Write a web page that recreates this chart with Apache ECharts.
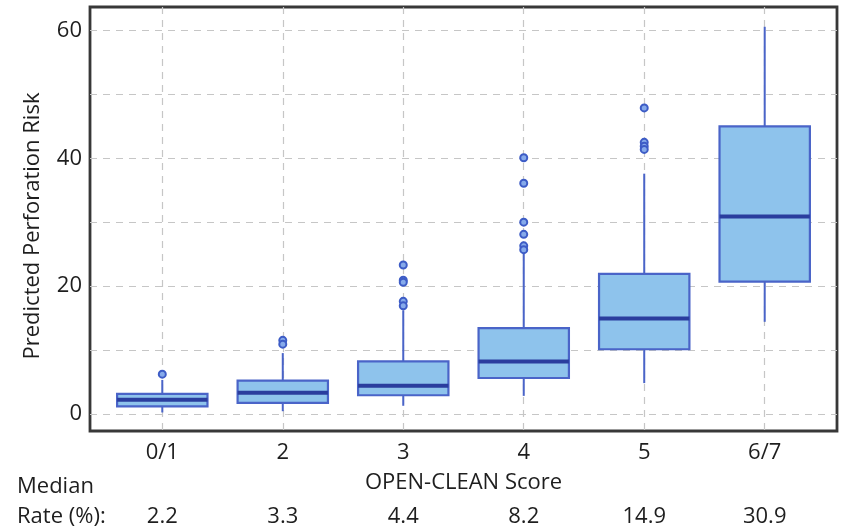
<!DOCTYPE html>
<html><head><meta charset="utf-8">
<script src="https://cdn.jsdelivr.net/npm/echarts@6/dist/echarts.min.js"></script>
<style>html,body{margin:0;padding:0;background:#fff}#c{width:841px;height:530px}</style>
</head><body><div id="c"></div>
<script>
const categories = ['0/1', '2', '3', '4', '5', '6/7'];
const medianRates = ['2.2', '3.3', '4.4', '8.2', '14.9', '30.9'];
const whiskerLow = [0.2, 0.4, 1.25, 2.8, 4.8, 14.4];
const quartile1 = [1.15, 1.7, 2.9, 5.6, 10.1, 20.7];
const medians = [2.2, 3.3, 4.4, 8.2, 14.9, 30.9];
const quartile3 = [3.1, 5.2, 8.2, 13.4, 21.9, 45.0];
const whiskerHigh = [5.3, 9.5, 16.2, 25.4, 37.6, 60.6];
const outliers = [
  [6.2],
  [11.5, 10.9],
  [23.3, 20.9, 20.6, 17.6, 16.9],
  [40.1, 36.1, 30.0, 28.1, 26.3, 25.7],
  [47.9, 42.5, 41.9, 41.4],
  []
];
const yTickLabels = [0, 20, 40, 60];
const yGridValues = [0, 10, 20, 30, 40, 50, 60];

const FONT = 'Open Sans';
const FS = 22;
const TXT = '#1e1e1e';
const positions = categories.map((c, i) => i + 1);

const boxData = categories.map((c, i) => [i + 1, whiskerLow[i], quartile1[i], medians[i], quartile3[i], whiskerHigh[i]]);
const outlierData = [];
outliers.forEach((arr, i) => arr.forEach(v => outlierData.push([i + 1, v])));

const chart = echarts.init(document.getElementById('c'), null, {renderer: 'canvas'});
const gridDash = {type: [7, 6], color: '#c6c6c6', width: 1.2};
chart.setOption({
  animation: false,
  backgroundColor: '#fff',
  grid: {left: 90, right: 4, top: 7, bottom: 99, show: true, borderColor: '#383838', borderWidth: 2.8, backgroundColor: 'transparent'},
  xAxis: [{
    type: 'value', min: 0.4, max: 6.6,
    axisLine: {show: false},
    axisTick: {show: false, customValues: positions},
    axisLabel: {customValues: positions, formatter: v => categories[Math.round(v) - 1], fontFamily: FONT, fontSize: FS, color: TXT, margin: 11},
    splitLine: {show: true, lineStyle: gridDash},
    name: 'OPEN-CLEAN Score', nameLocation: 'middle', nameGap: 41,
    nameTextStyle: {fontFamily: FONT, fontSize: FS, color: TXT}
  }, {
    type: 'value', min: 0.4, max: 6.6, position: 'bottom', offset: 64,
    axisLine: {show: false},
    axisTick: {show: false, customValues: positions},
    axisLabel: {customValues: positions, formatter: v => medianRates[Math.round(v) - 1], fontFamily: FONT, fontSize: FS, color: TXT, margin: 11},
    splitLine: {show: false}
  }],
  yAxis: {
    type: 'value', min: -2.7, max: 63.7,
    axisLine: {show: false},
    axisTick: {show: false, customValues: yGridValues},
    axisLabel: {customValues: yTickLabels, fontFamily: FONT, fontSize: FS, color: TXT, margin: 8},
    splitLine: {show: true, lineStyle: gridDash},
    name: 'Predicted Perforation Risk', nameLocation: 'middle', nameRotate: 90, nameGap: 46,
    nameTextStyle: {fontFamily: FONT, fontSize: FS, color: TXT, padding: [0, 14, 0, 0]}
  },
  graphic: [
    {type: 'text', left: 17, top: 476, style: {text: 'Median', font: FS + 'px "Open Sans"', fill: TXT}},
    {type: 'text', left: 17, top: 506, style: {text: 'Rate (%):', font: FS + 'px "Open Sans"', fill: TXT}}
  ],
  series: [{
    type: 'custom',
    z: 5,
    data: boxData,
    renderItem: (params, api) => {
      const x = api.value(0);
      const pMin = api.coord([x, api.value(1)]);
      const pQ1 = api.coord([x, api.value(2)]);
      const pMed = api.coord([x, api.value(3)]);
      const pQ3 = api.coord([x, api.value(4)]);
      const pMax = api.coord([x, api.value(5)]);
      const half = api.size([0.75, 0])[0] / 2;
      const stroke = '#4a64c8';
      return {type: 'group', children: [
        {type: 'line', shape: {x1: pMin[0], y1: pMin[1], x2: pQ1[0], y2: pQ1[1]}, style: {stroke, lineWidth: 2}},
        {type: 'line', shape: {x1: pQ3[0], y1: pQ3[1], x2: pMax[0], y2: pMax[1]}, style: {stroke, lineWidth: 2}},
        {type: 'rect', shape: {x: pQ3[0] - half, y: pQ3[1], width: 2 * half, height: pQ1[1] - pQ3[1]}, style: {fill: '#8ec3ec', stroke, lineWidth: 2.2}},
        {type: 'line', shape: {x1: pMed[0] - half, y1: pMed[1], x2: pMed[0] + half, y2: pMed[1]}, style: {stroke: '#2a3d9e', lineWidth: 4}}
      ]};
    }
  }, {
    type: 'scatter',
    z: 6,
    data: outlierData,
    symbol: 'circle',
    symbolSize: 7,
    itemStyle: {color: '#86aaea', borderColor: '#3d5cc6', borderWidth: 2, opacity: 1}
  }]
});
</script></body></html>
